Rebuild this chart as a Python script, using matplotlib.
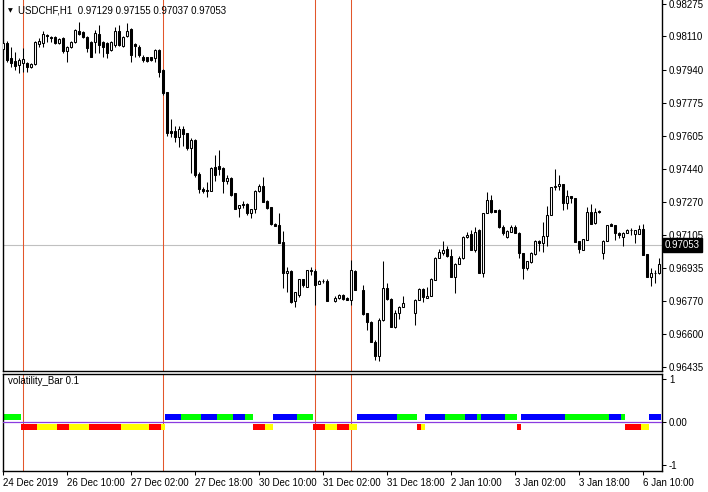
import numpy as np
import matplotlib.pyplot as plt
from matplotlib.transforms import blended_transform_factory

plt.rcParams['font.family'] = ['Liberation Sans', 'DejaVu Sans']

nan = np.nan

# USDCHF H1 candles, bar 0 = 24 Dec 2019
opens = [
    .98047, .98077, .98001, .97986, .97965, .97976, .97976, .97955, .97971, .98072,
    .98077, .98118, .98107, .98107, .98077, .98102, .98036, .98057, .98082, .98138,
    .98133, .98107, .98082, .98082, .98123, .98082, .98077, .98042, .98067, .98138,
    .98062, .98112, .98148, .98072, .98057, .98006, .98006, .98006, .98001, .98042,
    .97940, .97829, .97631, .97631, .97600, .97641, .97621, .97545, .97585, .97413,
    .97337, .97332, .97327, .97448, .97453, .97443, .97377, .97393, .97317, .97240,
    .97261, .97261, .97215, .97235, .97327, .97352, .97276, .97246, .97159, .97154,
    .97068, .96911, .96921, .96769, .96799, .96880, .96840, .96926, .96921, .96855,
    .96870, .96870, nan, .96769, .96784, .96799, .96784, .96774, .96921, nan,
    .96825, .96708, .96662, .96561, .96490, .96673, .96835, .96779, .96637, .96708,
    .96738, nan, nan, .96708, .96774, .96830, .96784, .96794, .96875, .96987,
    .97012, .97033, .96997, .96891, .96957, .96987, .97093, .97109, .97028, .97129,
    .96911, .97215, .97281, .97230, .97230, .97144, .97093, .97119, .97144, .97114,
    .97012, .96936, .96967, .97007, .97073, .97063, .97098, .97205, .97347, .97352,
    .97362, .97266, .97301, .97291, .97073, .97028, .97078, .97220, .97164, .97225,
    .97012, .97073, .97159, .97154, .97114, .97093, .97114, .97129, .97109, .97109,
    .97134, .97007, .96891, .96911, .96911]
highs = [
    .98097, .98087, .98057, .98031, .98001, .98052, .97981, .97976, .98087, .98102,
    .98138, .98123, .98112, .98112, .98102, .98107, .98062, .98087, .98148, .98183,
    .98138, .98112, .98087, .98143, .98168, .98087, .98082, .98087, .98158, .98168,
    .98112, .98178, .98153, .98077, .98067, .98016, .98006, .98006, .98047, .98047,
    .97945, .97829, .97692, .97656, .97656, .97656, .97621, .97595, .97590, .97423,
    .97347, .97372, .97448, .97509, .97534, .97448, .97408, .97398, .97317, .97256,
    .97276, .97266, .97235, .97332, .97362, .97398, .97281, .97246, .97164, .97215,
    .97124, .96941, .96926, .96815, .96880, .96880, .96926, .96941, .96931, .96875,
    .96880, .96880, nan, .96794, .96804, .96804, .96789, .96977, .96926, nan,
    .96850, .96708, .96667, .96571, .96683, .96972, .96860, .96784, .96723, .96744,
    .96794, nan, nan, .96779, .96835, .96835, .96840, .96886, .96992, .97033,
    .97073, .97048, .97033, .96962, .96997, .97098, .97119, .97129, .97144, .97134,
    .97215, .97322, .97306, .97230, .97235, .97154, .97129, .97154, .97154, .97119,
    .97012, .96972, .97017, .97078, .97078, .97169, .97251, .97347, .97438, .97408,
    .97362, .97332, .97301, .97291, .97073, .97083, .97246, .97261, .97240, .97230,
    .97078, .97154, .97164, .97154, .97119, .97119, .97134, .97139, .97129, .97154,
    .97159, .97007, .96936, .96926, .96987]
lows = [
    .98026, .97981, .97955, .97940, .97925, .97930, .97930, .97950, .97965, .98057,
    .98057, .98082, .98082, .98072, .98072, .98026, .97981, .98052, .98077, .98118,
    .98102, .98031, .98006, .98026, .98026, .98006, .98001, .98036, .98057, .98062,
    .98057, .98107, .97981, .98006, .98006, .97981, .97981, .97986, .97981, .97905,
    .97813, .97605, .97600, .97575, .97550, .97555, .97534, .97418, .97398, .97317,
    .97317, .97296, .97327, .97377, .97408, .97317, .97362, .97301, .97235, .97195,
    .97240, .97205, .97190, .97215, .97322, .97271, .97235, .97154, .97149, .97063,
    .96835, .96815, .96759, .96738, .96789, .96840, .96840, .96901, .96749, .96855,
    .96860, .96769, nan, .96764, .96779, .96774, .96774, .96749, .96825, nan,
    .96698, .96622, .96561, .96470, .96465, .96667, .96774, .96637, .96632, .96678,
    .96738, nan, nan, .96647, .96774, .96764, .96784, .96794, .96875, .96987,
    .97002, .96992, .96891, .96809, .96957, .96982, .97088, .97028, .97017, .96911,
    .96891, .97215, .97215, .97220, .97139, .97104, .97088, .97119, .97114, .96987,
    .96880, .96926, .96962, .97002, .97022, .97017, .97048, .97205, .97332, .97332,
    .97230, .97235, .97266, .97068, .97012, .97028, .97078, .97159, .97159, .97215,
    .96982, .97073, .97149, .97078, .97088, .97048, .97114, .97104, .97063, .97109,
    .97002, .96891, .96845, .96860, .96906]
closes = [
    .98077, .97991, .97976, .97960, .97991, .97996, .97955, .97971, .98082, .98087,
    .98123, .98112, .98102, .98077, .98097, .98036, .98057, .98082, .98143, .98123,
    .98107, .98052, .98006, .98128, .98067, .98057, .98026, .98082, .98138, .98067,
    .98107, .98138, .98016, .98062, .98016, .97991, .97986, .97991, .98042, .97930,
    .97824, .97621, .97621, .97600, .97641, .97616, .97545, .97585, .97408, .97337,
    .97327, .97327, .97443, .97408, .97438, .97377, .97393, .97306, .97235, .97256,
    .97256, .97215, .97235, .97327, .97352, .97271, .97240, .97159, .97149, .97063,
    .96911, .96921, .96764, .96815, .96880, .96850, .96926, .96921, .96850, .96870,
    .96870, .96769, nan, .96784, .96799, .96779, .96774, .96926, .96825, nan,
    .96703, .96662, .96561, .96490, .96673, .96835, .96779, .96637, .96708, .96738,
    .96759, nan, nan, .96774, .96830, .96789, .96794, .96880, .96987, .97017,
    .97028, .96997, .96891, .96957, .96987, .97093, .97104, .97028, .97119, .96911,
    .97215, .97281, .97220, .97220, .97144, .97114, .97124, .97144, .97114, .97012,
    .96936, .96972, .97012, .97073, .97063, .97098, .97205, .97347, .97352, .97362,
    .97266, .97301, .97291, .97068, .97033, .97083, .97220, .97159, .97220, .97220,
    .97073, .97154, .97149, .97114, .97104, .97114, .97129, .97129, .97129, .97134,
    .97002, .96891, .96911, .96911, .96957]

# volatility_Bar state per bar: B/G above zero, R/Y below zero
vol_states = ("GGGGG" "RRRR" "YYYYY" "RRR" "YYYYY" "RRRRRRRR" "YYYYYYY" "RRR" "Y"
              "BBBB" "GGGGG" "BBBB" "GGGG" "BBB" "GG" "RRR" "YY" "BBBBBB" "GGGG"
              "RRR" "YYY" "RRR" "YY" "BBBBBBBBBB" "GGGGG" "R" "Y" "BBBBB" "GGGGG"
              "BBB" "G" "BBBBBB" "GGG" "R" "BBBBBBBBBBB" "GGGGGGGGGGG" "BBB" "G"
              "RRRR" "YY" "BBB")

price_ticks = [0.98275, 0.98110, 0.97940, 0.97775, 0.97605, 0.97440,
               0.97270, 0.97105, 0.96935, 0.96770, 0.96600, 0.96435]
time_ticks = [0, 16, 32, 48, 64, 80, 96, 112, 128, 144, 160]
time_labels = ['24 Dec 2019', '26 Dec 10:00', '27 Dec 02:00', '27 Dec 18:00',
               '30 Dec 10:00', '31 Dec 02:00', '31 Dec 18:00', '2 Jan 10:00',
               '3 Jan 02:00', '3 Jan 18:00', '6 Jan 10:00']
vline_bars = [5, 40, 78, 87]
bid = 0.97053

o = np.array(opens); h = np.array(highs); l = np.array(lows); c = np.array(closes)
idx = np.arange(len(o))
ok = ~np.isnan(o)
up = ok & (c >= o)
dn = ok & (c < o)

W, H = 708, 492
fig = plt.figure(figsize=(W / 100, H / 100), dpi=100)
ax = fig.add_axes([2.5 / W, (H - 371) / H, 659.5 / W, 371 / H])
ax2 = fig.add_axes([2.5 / W, (H - 471) / H, 659.5 / W, 97.5 / H])

xlim = (-0.21, 164.67)
vcol = '#e2562b'

# main chart
ax.vlines(idx[ok], l[ok], h[ok], color='black', lw=0.75, zorder=2)
bot = np.minimum(o, c)
hgt = np.abs(c - o)
ax.bar(idx[up], hgt[up], bottom=bot[up], width=0.5, color='white',
       edgecolor='black', lw=0.75, zorder=3)
ax.bar(idx[dn], hgt[dn], bottom=bot[dn], width=0.5, color='black',
       edgecolor='black', lw=0.75, zorder=3)
ax.axhline(bid, color='#c0c0c0', lw=0.8, zorder=1)
for b in vline_bars:
    ax.axvline(b, color=vcol, lw=0.75, zorder=1)
ax.set_xlim(*xlim)
ax.set_ylim(0.96414, 0.98295)
ax.set_xticks([])
ax.yaxis.tick_right()
ax.set_yticks(price_ticks)
ax.set_yticklabels(['%.5f' % p for p in price_ticks])
ax.tick_params(axis='y', direction='out', length=3, width=0.75, pad=2, labelsize=7)
ax.spines['top'].set_visible(False)
for s in ['left', 'right', 'bottom']:
    ax.spines[s].set_linewidth(1)
tr = blended_transform_factory(ax.transAxes, ax.transData)
ax.text(1.004, bid, '%.5f' % bid, transform=tr, va='center', ha='left',
        color='white', fontsize=7, zorder=5,
        bbox=dict(boxstyle='square,pad=0.2', fc='black', ec='black'))

fig.text(18 / W, 1 - 10.5 / H, 'USDCHF,H1  0.97129 0.97155 0.97037 0.97053',
         fontsize=7, va='center', ha='left')
fig.text(8 / W, 1 - 10.5 / H, '\u25bc', fontsize=4.5, va='center', ha='left',
         family='DejaVu Sans')

# indicator
col_map = {'B': '#0000ff', 'G': '#00ff00', 'R': '#ff0000', 'Y': '#ffff00'}
states = np.array(list(vol_states))
for k, colr in col_map.items():
    m = states == k
    if k in 'BG':
        ax2.bar(idx[m], 0.14, bottom=0.047, width=1.02, color=colr, lw=0, zorder=2)
    else:
        ax2.bar(idx[m], -0.14, bottom=-0.047, width=1.02, color=colr, lw=0, zorder=2)
ax2.axhline(0, color='#8a3be0', lw=0.9, zorder=3)
for b in vline_bars:
    ax2.axvline(b, color=vcol, lw=0.75, zorder=1)
ax2.set_xlim(*xlim)
ax2.set_ylim(-1.14, 1.128)
ax2.yaxis.tick_right()
ax2.set_yticks([1, 0, -1])
ax2.set_yticklabels(['1', '0.00', '-1'])
ax2.tick_params(axis='y', direction='out', length=3, width=0.75, pad=2, labelsize=7)
ax2.set_xticks(time_ticks)
ax2.set_xticklabels(time_labels, ha='left')
ax2.tick_params(axis='x', direction='out', length=3, width=0.75, pad=2, labelsize=7)
for s in ax2.spines.values():
    s.set_linewidth(1)
ax2.text(6 / 659.5, 1 - 8 / 97.5, 'volatility_Bar 0.1', transform=ax2.transAxes,
         fontsize=7, va='center', ha='left')

fig.savefig('out.png', dpi=100)
